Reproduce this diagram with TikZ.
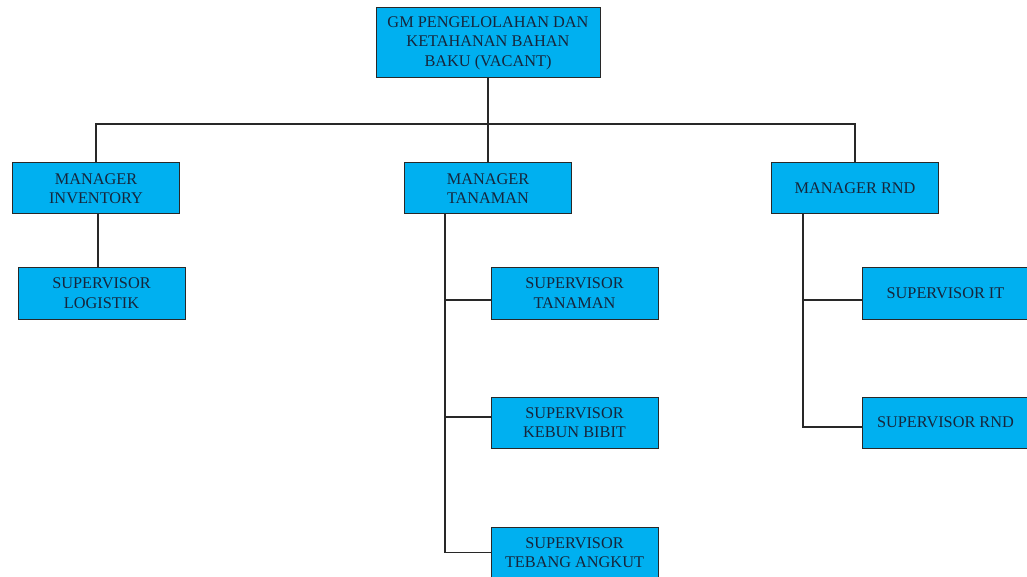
\documentclass[tikz,border=0pt]{standalone}
\usepackage{fontspec}
\setmainfont{Liberation Serif}
\definecolor{boxfill}{RGB}{0,176,240}
\definecolor{boxtext}{RGB}{22,38,60}
\definecolor{linecol}{RGB}{40,40,40}
\begin{document}
\begin{tikzpicture}[x=1pt,y=-1pt,
  unit/.style={draw=linecol, line width=1pt, fill=boxfill, text=boxtext,
    font=\fontsize{16.3}{19.5}\selectfont, align=center,
    inner sep=0pt, minimum width=167pt, minimum height=51pt},
  link/.style={draw=linecol, line width=1.4pt},
  thick link/.style={draw=linecol, line width=2.4pt}]
\useasboundingbox (0,0) rectangle (1027,577);
\fill[white] (0,0) rectangle (1027,577);

% top level
\node[unit, minimum width=224pt, minimum height=70pt] (gm) at (488,43)
  {GM PENGELOLAHAN DAN\\KETAHANAN BAHAN\\BAKU (VACANT)};

% managers
\node[unit] (mi) at (96,188.5) {MANAGER\\INVENTORY};
\node[unit] (mt) at (488,188.5) {MANAGER\\TANAMAN};
\node[unit] (mr) at (855,188.5) {MANAGER RND};

% supervisors
\node[unit, minimum height=52pt] (sl) at (101.5,293) {SUPERVISOR\\LOGISTIK};
\node[unit, minimum height=52pt] (st) at (574.5,293) {SUPERVISOR\\TANAMAN};
\node[unit] (sk) at (574.5,422.5) {SUPERVISOR\\KEBUN BIBIT};
\node[unit] (sa) at (574.5,552.5) {SUPERVISOR\\TEBANG ANGKUT};
\node[unit, minimum height=52pt] (sit) at (945.5,293) {SUPERVISOR IT};
\node[unit] (srnd) at (945.5,422.5) {SUPERVISOR RND};

% bus below the GM box
\coordinate (bus) at (488,124);
\draw[link] (gm.south) -- (mt.north);
\draw[link] (mi.north) |- (bus) -| (mr.north);

% inventory branch
\coordinate (mij) at ([xshift=2pt]mi.south);
\draw[link] (mij) -- (mij |- sl.north);

% tanaman branch
\coordinate (tt) at (445,214);
\coordinate (stj) at ([yshift=-7pt]st.west);
\coordinate (skj) at ([yshift=5.5pt]sk.west);
\draw[link] (tt) |- (sa.west);
\draw[thick link] (tt |- stj) -- (stj);
\draw[link] (tt |- skj) -- (skj);

% rnd branch
\coordinate (rt) at (803,214);
\coordinate (sitj) at ([yshift=-7pt]sit.west);
\coordinate (srndj) at ([yshift=-4.5pt]srnd.west);
\draw[link] (rt) |- (srndj);
\draw[thick link] (rt |- sitj) -- (sitj);
\end{tikzpicture}
\end{document}
